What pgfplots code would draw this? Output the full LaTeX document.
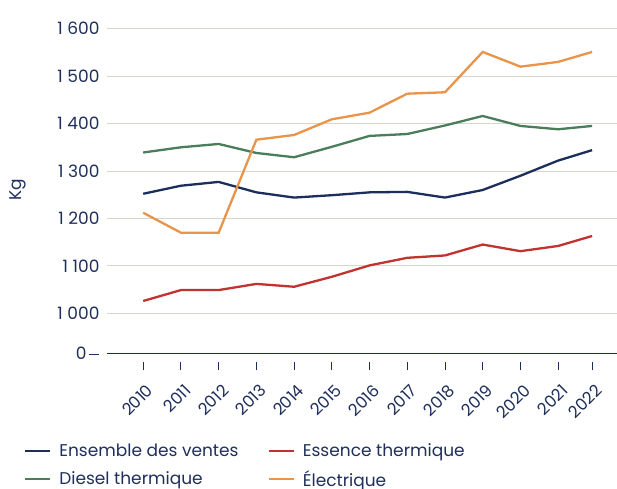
\documentclass[border=0pt]{standalone}
\usepackage{fontspec}
\setmainfont{Poppins}
\usepackage{pgfplots}
\pgfplotsset{compat=1.18}
\definecolor{navy}{HTML}{1B2E5C}
\definecolor{cred}{HTML}{C0332E}
\definecolor{cgreen}{HTML}{4A7D5A}
\definecolor{corange}{HTML}{E8944A}
\definecolor{gridc}{HTML}{D8D5CB}
\definecolor{txt}{HTML}{1F2F5B}
\begin{document}
\begin{tikzpicture}[x=1pt,y=1pt]
\useasboundingbox (0,0) rectangle (617,488);
\begin{axis}[
  at={(107pt,134.7pt)}, anchor=south west,
  scale only axis, width=510pt, height=324.6pt,
  xmin=-0.96, xmax=12.56, ymin=915.7, ymax=1600,
  axis x line*=bottom, axis y line*=left,
  x axis line style={draw=navy, line width=1pt, -},
  y axis line style={draw=none},
  /pgf/number format/assume math mode=true,
  ytick={1000,1100,1200,1300,1400,1500,1600},
  yticklabels={1\hspace{4.5pt}000,1\hspace{4.5pt}100,1\hspace{4.5pt}200,1\hspace{4.5pt}300,1\hspace{4.5pt}400,1\hspace{4.5pt}500,1\hspace{4.5pt}600},
  extra y ticks={915.7},
  extra y tick labels={0\hspace{3pt}\rule[0.3em]{10pt}{0.9pt}},
  extra y tick style={grid=none},
  ytick style={draw=none},
  yticklabel style={font=\fontsize{17}{19}\selectfont, text=txt, anchor=east, xshift=4pt},
  xtick={0,1,2,3,4,5,6,7,8,9,10,11,11.9},
  xticklabels={2010,2011,2012,2013,2014,2015,2016,2017,2018,2019,2020,2021,2022},
  xtick style={draw=navy, line width=0.9pt, yshift=-8.5pt},
  major tick length=8pt,
  tick align=outside,
  xticklabel style={font=\fontsize{16.5}{18}\selectfont, text=txt, xshift=2.5pt, yshift=-17pt, rotate=45, anchor=north east},
  ymajorgrids, grid style={gridc, line width=1pt},
  ylabel={Kg},
  every axis y label/.style={at={(axis description cs:-0.1745,0.503)}, rotate=90, anchor=center, font=\fontsize{17}{20}\selectfont, text=txt},
  legend columns=2,
  legend cell align=left,
  legend image code/.code={\draw[#1, line width=2.3pt] (0pt,0pt) -- (25pt,0pt); \path (31pt,0pt);},
  legend style={draw=none, fill=none, at={(axis description cs:-0.169,-0.266)}, anchor=north west,
    font=\fontsize{17}{20}\selectfont, text=txt, row sep=8pt,
    /tikz/every even column/.append style={column sep=27pt}},
]
\addplot[navy, line width=2.3pt] coordinates {(0,1252) (1,1269) (2,1277) (3,1255) (4,1244) (5,1249) (6,1255) (7,1256) (8,1244) (9,1260) (10,1290) (11,1322) (11.9,1344)};
\addlegendentry{Ensemble des ventes}
\addplot[cred, line width=2.3pt] coordinates {(0,1026) (1,1049) (2,1049) (3,1062) (4,1056) (5,1077) (6,1101) (7,1117) (8,1122) (9,1145) (10,1131) (11,1142) (11.9,1163)};
\addlegendentry{Essence thermique}
\addplot[cgreen, line width=2.3pt] coordinates {(0,1339) (1,1350) (2,1357) (3,1338) (4,1329) (5,1351) (6,1374) (7,1378) (8,1396) (9,1416) (10,1395) (11,1388) (11.9,1395)};
\addlegendentry{Diesel thermique}
\addplot[corange, line width=2.3pt] coordinates {(0,1212) (1,1170) (2,1170) (3,1366) (4,1376) (5,1409) (6,1423) (7,1463) (8,1466) (9,1551) (10,1520) (11,1530) (11.9,1551)};
\addlegendentry{Électrique}
\end{axis}
\end{tikzpicture}
\end{document}
